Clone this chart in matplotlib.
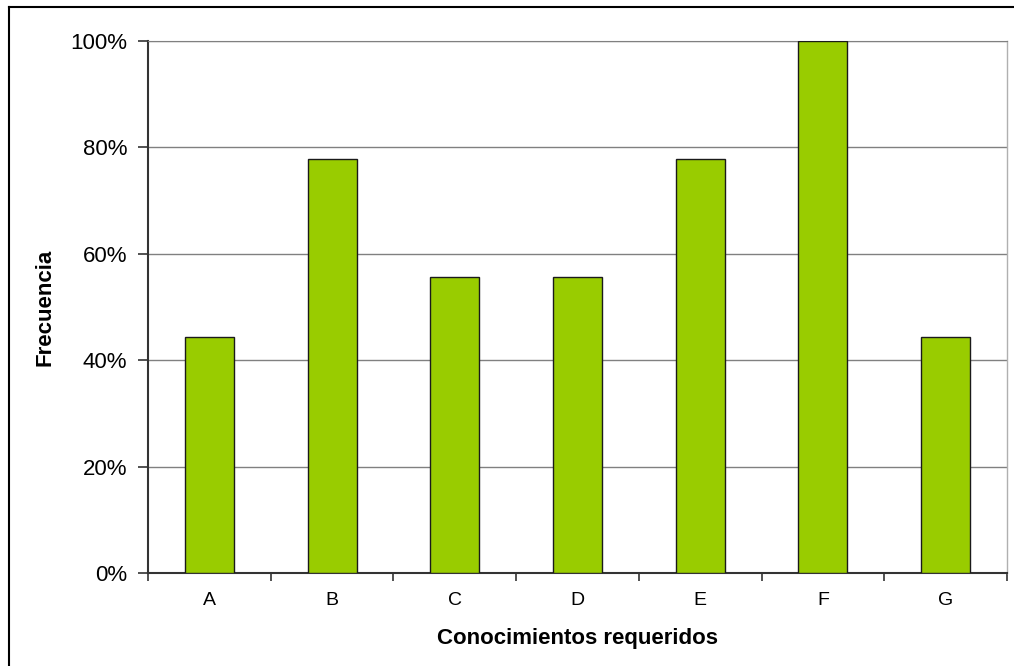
import matplotlib
matplotlib.use("Agg")
import matplotlib.pyplot as plt
from matplotlib.lines import Line2D
from matplotlib.ticker import PercentFormatter, FixedLocator, NullFormatter
import numpy as np

plt.rcParams['font.family'] = ['Liberation Sans', 'DejaVu Sans']

# frequency of each required skill (share of respondents)
categories = ['A', 'B', 'C', 'D', 'E', 'F', 'G']
frecuencia = [0.444, 0.778, 0.556, 0.556, 0.778, 1.0, 0.444]

fig = plt.figure(figsize=(10.14, 6.66), dpi=100)
ax = fig.add_axes([148 / 1014, 1 - 573 / 666, (1007 - 148) / 1014, (573 - 41) / 666])

x = np.arange(len(categories))
ax.bar(x, frecuencia, width=0.4, color='#99CC00', edgecolor='#1a1a1a', linewidth=1.0, zorder=3)

ax.set_xlim(-0.5, len(categories) - 0.5)
ax.set_ylim(0, 1.0)

# y axis: percent ticks with gray gridlines
ax.set_yticks(np.arange(0, 1.01, 0.2))
ax.yaxis.set_major_formatter(PercentFormatter(1.0, decimals=0))
ax.yaxis.grid(True, color='#808080', linewidth=1.0, zorder=0)
ax.tick_params(axis='y', direction='out', length=7, width=1.2, color='#333333',
               labelsize=16, pad=8)

# x axis: ticks on category boundaries, labels centred on bars
ax.xaxis.set_major_locator(FixedLocator(np.arange(-0.5, len(categories), 1.0)))
ax.xaxis.set_major_formatter(NullFormatter())
ax.xaxis.set_minor_locator(FixedLocator(x))
ax.set_xticklabels(categories, minor=True)
ax.tick_params(axis='x', which='major', direction='out', length=6, width=1.2, color='#333333')
ax.tick_params(axis='x', which='minor', length=0, labelsize=14, pad=14)

for side in ['left', 'bottom']:
    ax.spines[side].set_color('#333333')
    ax.spines[side].set_linewidth(1.5)
ax.spines['top'].set_color('#808080')
ax.spines['right'].set_color('#b0b0b0')
ax.spines['right'].set_linewidth(1.0)

ax.set_xlabel('Conocimientos requeridos', fontsize=16, fontweight='bold')
ax.xaxis.set_label_coords(0.5, -0.104)
ax.set_ylabel('Frecuencia', fontsize=16, fontweight='bold')
ax.yaxis.set_label_coords(-(148 - 56) / 859, 0.5)

# chart frame (top and left edges)
fig.add_artist(Line2D([9 / 1014, 9 / 1014], [0, 1 - 7 / 666], transform=fig.transFigure,
                      color='black', linewidth=1.5))
fig.add_artist(Line2D([9 / 1014, 1], [1 - 7 / 666, 1 - 7 / 666], transform=fig.transFigure,
                      color='black', linewidth=1.5))

fig.savefig('out.png', dpi=100)
